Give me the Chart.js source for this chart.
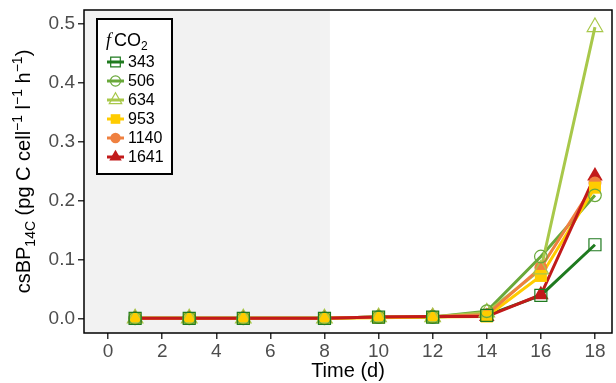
<!DOCTYPE html>
<html>
<head>
<meta charset="utf-8">
<script src="https://cdn.jsdelivr.net/npm/chart.js@4/dist/chart.umd.min.js"></script>
<style>
  html, body { margin: 0; padding: 0; background: #fff; }
  canvas { display: block; }
</style>
</head>
<body>
<canvas id="chart" width="616" height="383"></canvas>
<script>
// sampling days
const days = [1, 3, 5, 8, 10, 12, 14, 16, 18];
// fCO2 treatments
const treatments = ["343", "506", "634", "953", "1140", "1641"];
// csBP14C per treatment (pg C cell-1 l-1 h-1)
const bp343  = [0, 0, 0, 0, 0.002, 0.002, 0.005, 0.039, 0.125];
const bp506  = [0, 0, 0, 0, 0.002, 0.002, 0.012, 0.105, 0.209];
const bp634  = [0, 0, 0, 0, 0.002, 0.002, 0.010, 0.083, 0.495];
const bp953  = [0, 0, 0, 0, 0.001, 0.002, 0.003, 0.072, 0.222];
const bp1140 = [0, 0, 0, 0, 0.002, 0.003, 0.006, 0.086, 0.230];
const bp1641 = [0, 0, 0, 0, 0.002, 0.003, 0.003, 0.040, 0.242];
const xTicks = [0, 2, 4, 6, 8, 10, 12, 14, 16, 18];
const yTicks = [0.0, 0.1, 0.2, 0.3, 0.4, 0.5];
const shadeEnd = 8.2;

const series = [bp343, bp506, bp634, bp953, bp1140, bp1641];
const colors = ["#1f7a1f", "#69a83a", "#a8c84a", "#ffcc00", "#ef8040", "#c21a1a"];
const shapes = ["rect", "circle", "triangle", "rect", "circle", "triangle"];
const hollow = [true, true, true, false, false, false];
const radii  = [8.5, 6.3, 9, 8.5, 6.5, 9];

const toXY = arr => arr.map((v, i) => ({ x: days[i], y: v }));

// lines first (forward order), then markers (reverse order) like ggplot
const lineSets = series.map((s, i) => ({
  label: treatments[i],
  data: toXY(s),
  borderColor: colors[i],
  borderWidth: 3,
  pointRadius: 0,
  showLine: true,
  order: 20 - i
}));
const pointSets = series.map((s, i) => ({
  label: treatments[i] + " pts",
  data: toXY(s),
  showLine: false,
  pointStyle: shapes[i],
  pointRadius: radii[i],
  pointBorderColor: colors[i],
  pointBackgroundColor: hollow[i] ? "rgba(0,0,0,0)" : colors[i],
  pointBorderWidth: hollow[i] ? 1.2 : 0,
  order: i
}));

const decor = {
  id: "decor",
  beforeDatasetsDraw(chart) {
    const { ctx, chartArea: a, scales: { x } } = chart;
    ctx.save();
    ctx.fillStyle = "#f2f2f2";
    const xe = x.getPixelForValue(shadeEnd);
    ctx.fillRect(a.left, a.top, xe - a.left, a.bottom - a.top);
    ctx.restore();
  },
  afterDraw(chart) {
    const { ctx, chartArea: a } = chart;
    ctx.save();
    // panel border
    ctx.strokeStyle = "#000";
    ctx.lineWidth = 1.5;
    ctx.strokeRect(a.left, a.top, a.right - a.left, a.bottom - a.top);

    // legend box
    ctx.fillStyle = "#fff";
    ctx.fillRect(97, 19, 75, 155);
    ctx.lineWidth = 2;
    ctx.strokeRect(97, 19, 75, 155);
    ctx.fillStyle = "#000";
    ctx.textBaseline = "alphabetic";
    ctx.font = "italic 18px 'Liberation Serif'";
    ctx.fillText("f", 106, 46);
    ctx.font = "18px 'Liberation Sans'";
    ctx.fillText("CO", 114, 46);
    const w = ctx.measureText("CO").width;
    ctx.font = "12px 'Liberation Sans'";
    ctx.fillText("2", 114 + w, 50);
    treatments.forEach((t, i) => {
      const y = 62 + i * 19;
      ctx.strokeStyle = colors[i];
      ctx.lineWidth = 3;
      ctx.beginPath();
      ctx.moveTo(107, y);
      ctx.lineTo(124, y);
      ctx.stroke();
      ctx.strokeStyle = colors[i];
      ctx.fillStyle = hollow[i] ? "rgba(0,0,0,0)" : colors[i];
      ctx.lineWidth = 1.2;
      Chart.helpers.drawPoint(ctx, {
        pointStyle: shapes[i], radius: radii[i] * 0.8, borderWidth: hollow[i] ? 1.2 : 0
      }, 115.5, y);
      ctx.fillStyle = "#000";
      ctx.font = "16px 'Liberation Sans'";
      ctx.textBaseline = "middle";
      ctx.fillText(t, 128, y + 1);
    });

    // y axis title with sub/superscripts
    const parts = [
      ["csBP", 0], ["14C", -1], [" (pg C cell", 0], ["\u22121", 1],
      [" l", 0], ["\u22121", 1], [" h", 0], ["\u22121", 1], [")", 0]
    ];
    const big = "20px 'Liberation Sans'", small = "14px 'Liberation Sans'";
    let total = 0;
    parts.forEach(([s, k]) => { ctx.font = k ? small : big; total += ctx.measureText(s).width; });
    ctx.translate(30, (a.top + a.bottom) / 2);
    ctx.rotate(-Math.PI / 2);
    ctx.fillStyle = "#000";
    ctx.textBaseline = "alphabetic";
    let px = -total / 2;
    parts.forEach(([s, k]) => {
      ctx.font = k ? small : big;
      const dy = k === -1 ? 5 : (k === 1 ? -8 : 0);
      ctx.fillText(s, px, dy);
      px += ctx.measureText(s).width;
    });
    ctx.restore();
  }
};

new Chart(document.getElementById("chart"), {
  type: "scatter",
  data: { datasets: [...lineSets, ...pointSets] },
  options: {
    responsive: false,
    animation: false,
    devicePixelRatio: 1,
    layout: { autoPadding: false, padding: { top: 10, right: 4, left: 0, bottom: 0 } },
    plugins: { legend: { display: false }, tooltip: { enabled: false } },
    scales: {
      x: {
        type: "linear",
        min: -0.89,
        max: 18.63,
        afterFit: s => { s.height = 50; s.paddingLeft = 0; s.paddingRight = 0; },
        afterBuildTicks: s => { s.ticks = xTicks.map(v => ({ value: v })); },
        grid: { drawOnChartArea: false, drawTicks: true, tickLength: 6, color: "#333", lineWidth: 1.5 },
        border: { display: false },
        ticks: { color: "#4d4d4d", font: { size: 19, family: "'Liberation Sans'" }, padding: 1, maxRotation: 0 },
        title: { display: true, text: "Time (d)", color: "#000", font: { size: 20, family: "'Liberation Sans'" }, padding: { top: 0, bottom: 0 } }
      },
      y: {
        type: "linear",
        min: -0.025,
        max: 0.524,
        afterFit: s => { s.width = 84; s.paddingTop = 0; s.paddingBottom = 0; },
        afterBuildTicks: s => { s.ticks = yTicks.map(v => ({ value: v })); },
        grid: { drawOnChartArea: false, drawTicks: true, tickLength: 6, color: "#333", lineWidth: 1.5 },
        border: { display: false },
        ticks: { color: "#4d4d4d", font: { size: 19, family: "'Liberation Sans'" }, padding: 3, callback: v => v.toFixed(1) }
      }
    }
  },
  plugins: [decor]
});
</script>
</body>
</html>
